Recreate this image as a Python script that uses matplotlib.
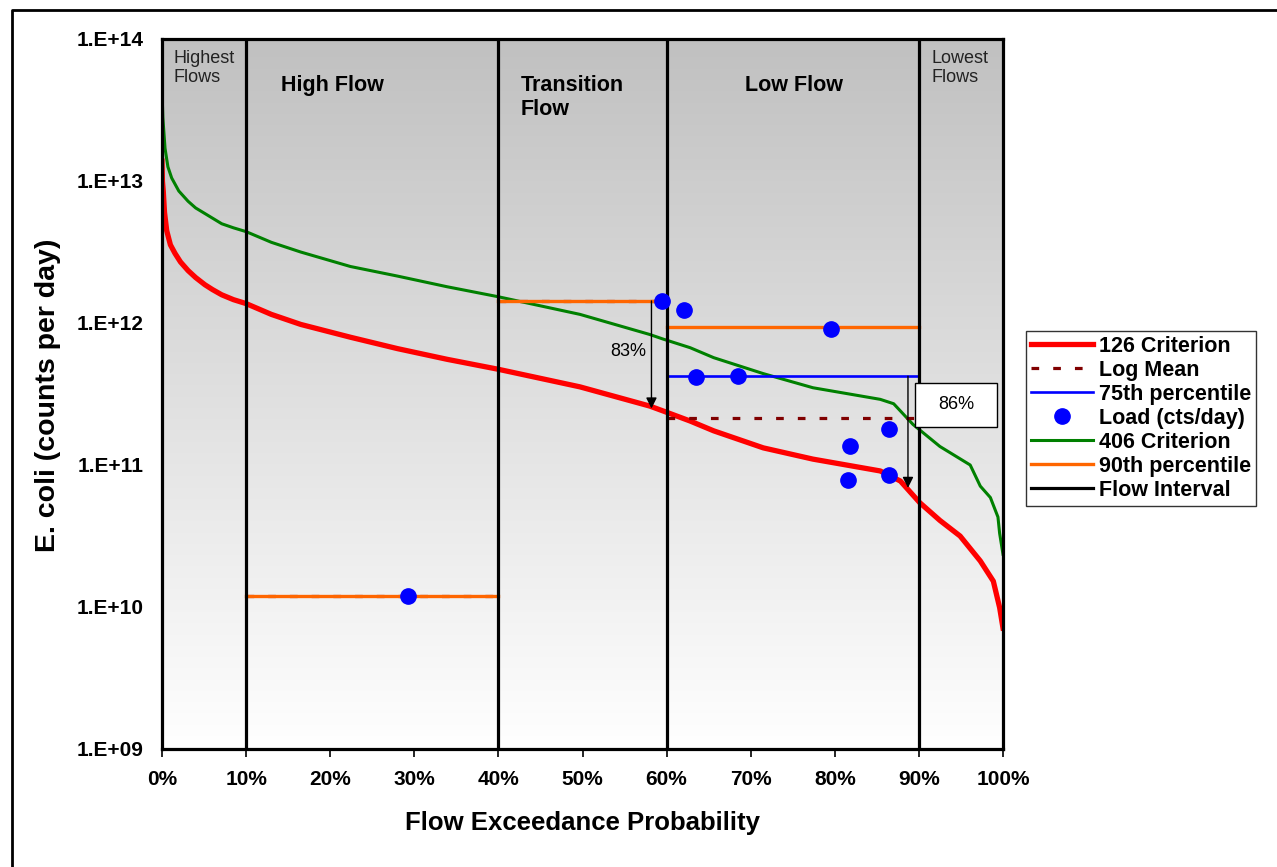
import matplotlib
matplotlib.use("Agg")
import matplotlib.pyplot as plt
import numpy as np
from matplotlib.lines import Line2D
from matplotlib.patches import Rectangle

plt.rcParams["font.family"] = ["Liberation Sans", "DejaVu Sans"]

# load duration curves (flow exceedance %, counts/day)
crit126_pct = [0, 0.05, 0.15, 0.3, 0.56, 1.0, 1.55, 2.2, 3.1, 4.0, 5.1, 6.0, 7.1,
               8.5, 10, 13, 16.5, 22.4, 28, 33.9, 40, 49.7, 58, 59.6, 62.8, 65.6,
               71.5, 77.4, 85.4, 87.8, 90.1, 92.5, 94.9, 97.3, 98.85, 99.6, 100]
crit126_load = [1.38e13, 1.0e13, 8.5e12, 6.0e12, 4.47e12, 3.55e12, 3.09e12,
                2.69e12, 2.34e12, 2.09e12, 1.86e12, 1.72e12, 1.58e12, 1.46e12,
                1.37e12, 1.15e12, 9.77e11, 7.94e11, 6.6e11, 5.55e11, 4.72e11,
                3.55e11, 2.6e11, 2.4e11, 2.04e11, 1.74e11, 1.32e11, 1.1e11,
                9.08e10, 7.71e10, 5.43e10, 4.07e10, 3.16e10, 2.11e10, 1.52e10,
                9.9e9, 7.1e9]

crit406_pct = [0, 0.1, 0.36, 0.7, 1.15, 2.0, 3.1, 4.0, 5.1, 7.1, 8.5, 10, 13,
               16.5, 22.4, 28, 33.9, 40, 49.7, 58, 59.6, 62.8, 65.6, 71.5, 77.4,
               85.4, 87, 89.3, 92.5, 96.1, 97.3, 98.5, 99.4, 99.6, 100]
crit406_load = [4.4e13, 2.8e13, 1.7e13, 1.26e13, 1.05e13, 8.5e12, 7.2e12,
                6.46e12, 5.9e12, 5.0e12, 4.68e12, 4.4e12, 3.7e12, 3.16e12,
                2.5e12, 2.14e12, 1.8e12, 1.53e12, 1.15e12, 8.3e11, 7.7e11,
                6.7e11, 5.7e11, 4.4e11, 3.5e11, 2.9e11, 2.7e11, 1.93e11,
                1.35e11, 1.0e11, 7.1e10, 5.9e10, 4.3e10, 3.3e10, 2.35e10]

# observed loads
load_pct = [29.25, 59.4, 62.1, 63.5, 68.5, 79.6, 86.4, 81.8, 81.6, 86.4]
load_cts = [1.19e10, 1.43e12, 1.24e12, 4.17e11, 4.24e11, 9.1e11, 1.8e11,
            1.37e11, 7.8e10, 8.45e10]

# percentile / mean lines per flow zone
p90_start = [10, 40, 60]
p90_end = [40, 60, 90]
p90_value = [1.19e10, 1.43e12, 9.4e11]

p75_start = [10, 40, 60]
p75_end = [40, 60, 90]
p75_value = [1.19e10, 1.43e12, 4.22e11]

logmean_start = [10, 40, 60]
logmean_end = [40, 60, 90]
logmean_value = [1.19e10, 1.43e12, 2.15e11]

zone_edges = [10, 40, 60, 90]

# required reductions
reduction_pct = [58.2, 88.7]
reduction_from = [1.43e12, 4.22e11]
reduction_to = [2.5e11, 6.9e10]
reduction_label = ["83%", "86%"]

ytick_values = [1e9, 1e10, 1e11, 1e12, 1e13, 1e14]
ytick_labels = ["1.E+09", "1.E+10", "1.E+11", "1.E+12", "1.E+13", "1.E+14"]
xtick_values = [0, 10, 20, 30, 40, 50, 60, 70, 80, 90, 100]
xtick_labels = [f"{v}%" for v in xtick_values]

W, H = 1277, 867
fig = plt.figure(figsize=(W / 100, H / 100), dpi=100)
ax = fig.add_axes([162 / W, 1 - 749 / H, (1003 - 162) / W, (749 - 39) / H])

# grey-to-white gradient background
grad = np.linspace(0.755, 1.0, 256).reshape(-1, 1)
ax.imshow(np.dstack([grad, grad, grad]), extent=[0, 1, 0, 1],
          transform=ax.transAxes, aspect="auto", zorder=0, origin="upper")

ax.set_yscale("log")
ax.set_xlim(0, 100)
ax.set_ylim(1e9, 1e14)

ax.plot(crit126_pct, crit126_load, color="#FF0000", lw=3.8, zorder=2,
        solid_joinstyle="round")
ax.plot(crit406_pct, crit406_load, color="#008000", lw=2.2, zorder=2,
        solid_joinstyle="round")

for s, e, v in zip(logmean_start, logmean_end, logmean_value):
    ax.plot([s, e], [v, v], color="#800000", lw=2.3, ls=(0, (2.4, 4.4)), zorder=3)
for s, e, v in zip(p75_start, p75_end, p75_value):
    ax.plot([s, e], [v, v], color="#0000FF", lw=1.9, zorder=3.1)
for s, e, v in zip(p90_start, p90_end, p90_value):
    ax.plot([s, e], [v, v], color="#FF6600", lw=2.4, zorder=3.2)

for xe in zone_edges:
    ax.axvline(xe, color="black", lw=2.3, zorder=4)

ax.plot(load_pct, load_cts, "o", color="#0000FF", ms=11, mec="#0000FF",
        zorder=6, ls="none")

for x, y0, y1 in zip(reduction_pct, reduction_from, reduction_to):
    ax.annotate("", xy=(x, y1), xytext=(x, y0),
                arrowprops=dict(arrowstyle="-|>", color="black", lw=1.0,
                                mutation_scale=16, shrinkA=0, shrinkB=0),
                zorder=5)

ax.text(55.4, 6.3e11, reduction_label[0], fontsize=13, ha="center",
        va="center", zorder=7)
ax.add_patch(Rectangle((89.5, 1.85e11), 9.8, 3.78e11 - 1.85e11,
                       facecolor="white", edgecolor="black", lw=1.0, zorder=7))
ax.text(94.4, 2.66e11, reduction_label[1], fontsize=13, ha="center",
        va="center", zorder=8)

tr = ax.get_xaxis_transform()
ax.text(1.4, 0.985, "Highest\nFlows", transform=tr, fontsize=13, va="top",
        ha="left", linespacing=1.15, color="#222222")
ax.text(91.5, 0.985, "Lowest\nFlows", transform=tr, fontsize=13, va="top",
        ha="left", linespacing=1.15, color="#222222")
ax.text(14.1, 0.949, "High Flow", transform=tr, fontsize=15.5,
        fontweight="bold", va="top", ha="left")
ax.text(42.6, 0.949, "Transition\nFlow", transform=tr, fontsize=15.5,
        fontweight="bold", va="top", ha="left", linespacing=1.2)
ax.text(69.3, 0.949, "Low Flow", transform=tr, fontsize=15.5,
        fontweight="bold", va="top", ha="left")

ax.set_xticks(xtick_values)
ax.set_xticklabels(xtick_labels, fontsize=15, fontweight="bold")
ax.set_yticks(ytick_values)
ax.set_yticklabels(ytick_labels, fontsize=15, fontweight="bold")
ax.yaxis.set_minor_locator(matplotlib.ticker.NullLocator())
ax.tick_params(axis="x", direction="out", length=6, width=1.2, pad=9)
ax.tick_params(axis="y", length=0, pad=13)
for sp in ax.spines.values():
    sp.set_linewidth(2.3)
    sp.set_zorder(5)

fig.text((162 + 1003) / 2 / W, 1 - 823 / H, "Flow Exceedance Probability",
         fontsize=18.5, fontweight="bold", ha="center", va="center")
fig.text(48 / W, 1 - 395 / H, "E. coli (counts per day)", fontsize=20.5,
         fontweight="bold", ha="center", va="center", rotation=90)

handles = [
    Line2D([], [], color="#FF0000", lw=3.8),
    Line2D([], [], color="#800000", lw=2.3, ls=(0, (2.4, 4.4))),
    Line2D([], [], color="#0000FF", lw=1.9),
    Line2D([], [], color="#0000FF", marker="o", ms=11, ls="none"),
    Line2D([], [], color="#008000", lw=2.2),
    Line2D([], [], color="#FF6600", lw=2.4),
    Line2D([], [], color="black", lw=2.3),
]
labels = ["126 Criterion", "Log Mean", "75th percentile", "Load (cts/day)",
          "406 Criterion", "90th percentile", "Flow Interval"]
leg = fig.legend(handles, labels, loc="upper left",
                 bbox_to_anchor=(1026 / W, 1 - 331 / H), borderaxespad=0,
                 prop={"size": 15.5, "weight": "bold"}, fancybox=False,
                 frameon=True, edgecolor="black", labelspacing=0.14,
                 handlelength=2.9, handletextpad=0.25, borderpad=0.22)
leg.get_frame().set_linewidth(1.0)

# outer chart border
fig.add_artist(Line2D([12 / W, 12 / W, 1.0], [0, 1 - 10 / H, 1 - 10 / H],
                      transform=fig.transFigure, color="black", lw=2.0))

fig.savefig("out.png", dpi=100)
